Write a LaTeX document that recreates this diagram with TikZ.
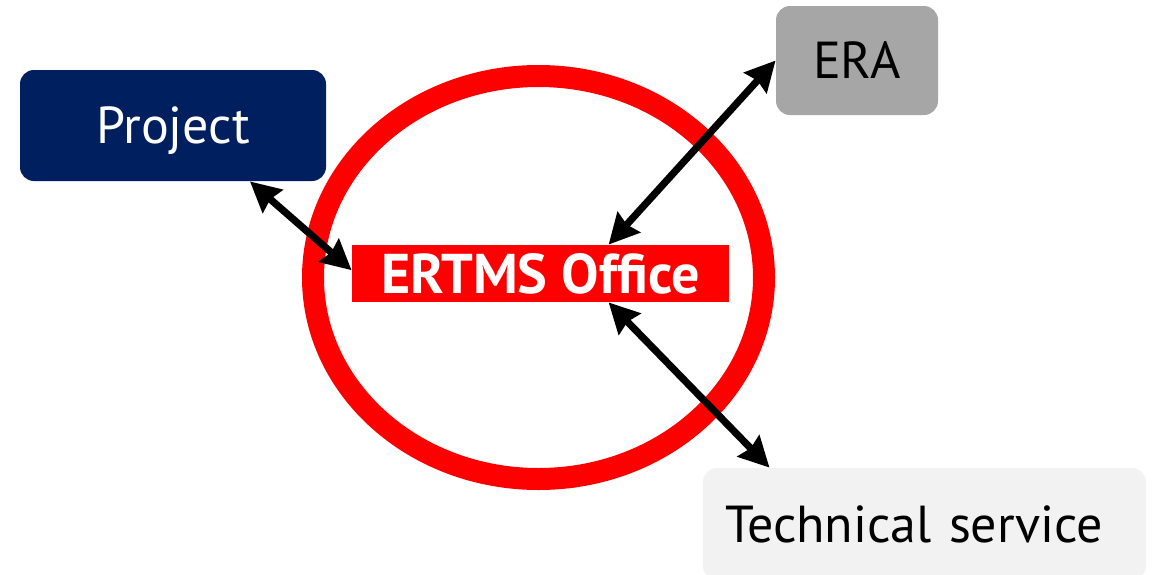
\documentclass[tikz,border=0pt]{standalone}
\usepackage{fontspec}
\setmainfont{PT Sans}
\usetikzlibrary{arrows.meta}
\definecolor{colorproject}{HTML}{001F5F}
\definecolor{colorera}{HTML}{A6A6A6}
\definecolor{colortech}{HTML}{F2F2F2}
\definecolor{colorring}{HTML}{FF0000}
\tikzset{partner box/.style={
        rounded corners=7pt, inner sep=0pt,
        text height=18.2pt, text depth=0pt,
        font=\fontsize{26}{30}\selectfont
    }
}
\tikzset{link/.style={
        line width=3.6pt,
        {Stealth[length=15pt,width=15pt,inset=1.5pt]}-{Stealth[length=15pt,width=15pt,inset=1.5pt]}
    }
}

\begin{document}
\begin{tikzpicture}[x=0.5pt, y=-0.5pt]
        \useasboundingbox (0,0) rectangle (1152,574);

        % the office ring
        \draw [colorring, line width=11pt] (538.5,277.5) ellipse [x radius=112.75pt, y radius=100.75pt];

        \node [fill=colorring, text=white, inner sep=0pt, minimum width=188.5pt, minimum height=28.5pt,
            text height=19.5pt, text depth=0pt, yshift=-1pt,
            font=\fontsize{28}{30}\selectfont\bfseries] (office) at (540.5,271.5) {ERTMS Office};

        \node [partner box, fill=colorproject, text=white, minimum width=153pt, minimum height=55.5pt]
            (project) at (173,125.5) {Project};
        \node [partner box, fill=colorera, minimum width=81pt, minimum height=54.5pt]
            (era) at (857,60.5) {ERA};
        \node [partner box, fill=colortech, text width=199.5pt, align=left, inner xsep=11pt,
            minimum height=56pt] (tech) at (924.5,524) {Technical service};

        \draw [link] (project.-36) -- (office.179);
        \draw [link] (era.west) -- (office.23);
        \draw [link] (tech.160) -- (office.-23);
    \end{tikzpicture}
\end{document}
